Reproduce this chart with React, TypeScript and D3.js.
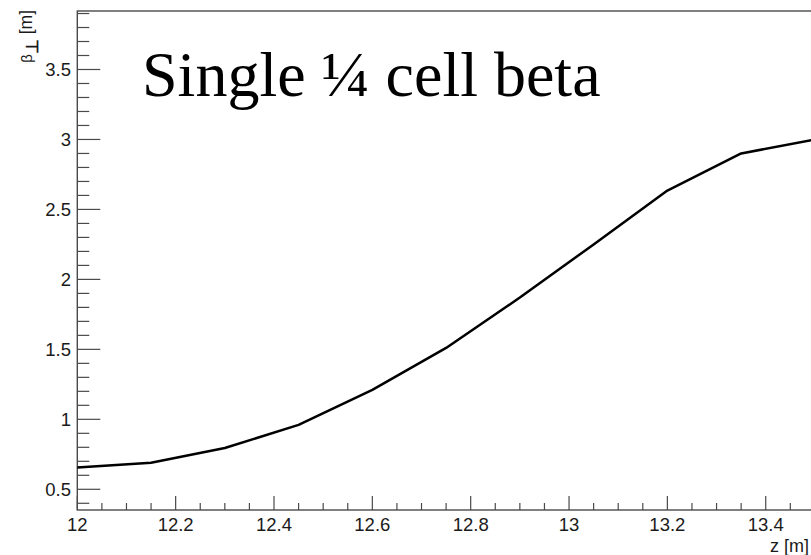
import React from "react";
import * as d3 from "d3";

const zValues = [12, 12.15, 12.3, 12.45, 12.6, 12.75, 12.9, 13.05, 13.2, 13.35, 13.5];
const betaValues = [0.655, 0.69, 0.795, 0.96, 1.21, 1.51, 1.87, 2.25, 2.635, 2.9, 3.0];
const xMajorTicks = [12, 12.2, 12.4, 12.6, 12.8, 13, 13.2, 13.4];
const xTickLabels = ["12", "12.2", "12.4", "12.6", "12.8", "13", "13.2", "13.4"];
const yMajorTicks = [0.5, 1, 1.5, 2, 2.5, 3, 3.5];
const yTickLabels = ["0.5", "1", "1.5", "2", "2.5", "3", "3.5"];
const titleText = "Single ¼ cell beta";

const W = 811;
const H = 555;
const left = 77.3;
const right = 814.9;
const top = 11;
const bottom = 510;

export default function App() {
  const x = d3.scaleLinear().domain([12, 13.5]).range([left, right]);
  const y = d3.scaleLinear().domain([0.352, 3.918]).range([bottom, top]);

  const xMinor = d3.range(0, 31).map((i) => 12 + i * 0.05).filter((v) => !xMajorTicks.some((m) => Math.abs(m - v) < 1e-6));
  const yMinor = d3.range(4, 40).map((i) => i / 10).filter((v) => !yMajorTicks.some((m) => Math.abs(m - v) < 1e-6) && y(v) >= top);

  const line = d3
    .line<number>()
    .x((_, i) => x(zValues[i]))
    .y((d) => y(d));

  const axisColor = "#4a4a4a";
  const font = "'Liberation Sans', Arial, Helvetica, sans-serif";

  return (
    <svg
      width={W}
      height={H}
      style={{ position: "fixed", left: 0, top: 0, background: "#fff" }}
      fontFamily={font}
    >
      <rect x={0} y={0} width={W} height={H} fill="#fff" />
      <rect x={left} y={top} width={right - left} height={bottom - top} fill="none" stroke={axisColor} strokeWidth={1.4} />
      {xMajorTicks.map((t, i) => (
        <g key={"xm" + i}>
          <line x1={x(t)} x2={x(t)} y1={bottom} y2={bottom - 14} stroke={axisColor} strokeWidth={1.2} />
          <text x={x(t)} y={531} fontSize={18.5} textAnchor="middle" fill="#1a1a1a">
            {xTickLabels[i]}
          </text>
        </g>
      ))}
      {xMinor.map((t, i) => (
        <line key={"xn" + i} x1={x(t)} x2={x(t)} y1={bottom} y2={bottom - 7} stroke={axisColor} strokeWidth={1.2} />
      ))}
      {yMajorTicks.map((t, i) => (
        <g key={"ym" + i}>
          <line x1={left} x2={left + 23} y1={y(t)} y2={y(t)} stroke={axisColor} strokeWidth={1.2} />
          <text x={71} y={y(t) + 6.5} fontSize={18.5} textAnchor="end" fill="#1a1a1a">
            {yTickLabels[i]}
          </text>
        </g>
      ))}
      {yMinor.map((t, i) => (
        <line key={"yn" + i} x1={left} x2={left + 12} y1={y(t)} y2={y(t)} stroke={axisColor} strokeWidth={1.2} />
      ))}
      <path d={line(betaValues) || ""} fill="none" stroke="#000" strokeWidth={2.5} strokeLinejoin="round" />
      <text x={809} y={551.5} fontSize={18} textAnchor="end" fill="#1a1a1a">
        z [m]
      </text>
      <text transform="translate(32,10) rotate(-90)" fontSize={17.5} textAnchor="end" fill="#1a1a1a">
        <tspan fontSize={15}>β</tspan>
        <tspan fontSize={17} fontWeight="bold" dy={6}>⊥</tspan>
        <tspan dy={-6}> [m]</tspan>
      </text>
      <text x={142} y={96} fontSize={64} fontFamily="'Liberation Serif', 'Times New Roman', serif" fill="#000">
        {titleText}
      </text>
    </svg>
  );
}
